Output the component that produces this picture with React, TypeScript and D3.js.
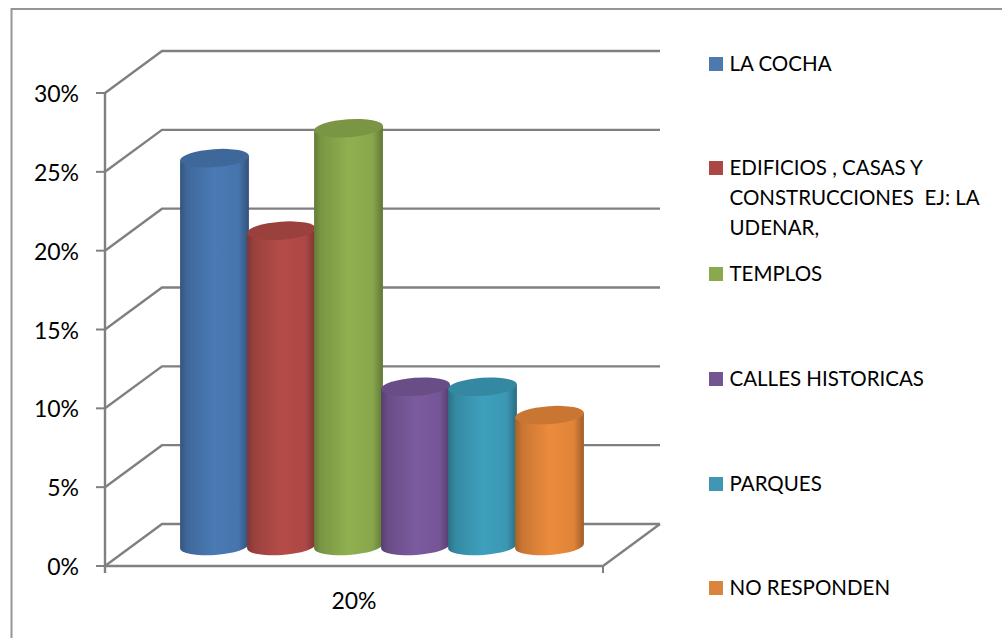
import React from "react";
import * as d3 from "d3";

const categories = ["LA COCHA", "EDIFICIOS , CASAS Y CONSTRUCCIONES EJ: LA UDENAR,", "TEMPLOS", "CALLES HISTORICAS", "PARQUES", "NO RESPONDEN"];
const values = [24.6, 20, 26.5, 10.1, 10.1, 8.3];
const colors = ["#4a7ab5", "#b54c49", "#8fb050", "#7b5a9e", "#3ea0bd", "#ec8b3c"];
const legendColors = ["#4a7ab0", "#ab4846", "#8aa84d", "#735592", "#4097b3", "#db843d"];
const tickValues = [0, 5, 10, 15, 20, 25, 30];
const legendLines = [["LA COCHA"], ["EDIFICIOS , CASAS Y", "CONSTRUCCIONES  EJ: LA", "UDENAR,"], ["TEMPLOS"], ["CALLES HISTORICAS"], ["PARQUES"], ["NO RESPONDEN"]];
const legendY = [64, 168, 274, 379, 484, 588];
const groupLabel = "20%";

const FONT = "Lato, Carlito, sans-serif";
const GRID = "#808080";

const x0 = 105, x1 = 603, dx = 57, dy = -42;
const y = d3.scaleLinear().domain([0, 30]).range([566, 93]);
const band = d3.scaleBand<number>().domain(d3.range(values.length)).range([181, 583]).paddingInner(0).paddingOuter(0);
const barBase = 546;
const h = (v: number) => y(0) - y(v);

export default function App() {
  const rx = band.bandwidth() / 2 + 1;
  const ry = 9;
  const tilt = -4;
  return (
    <svg width={1002} height={638} style={{ position: "absolute", left: 0, top: 0, background: "#fff" }}>
      <defs>
        {colors.map((c, i) => {
          const col = d3.color(c)!;
          return (
            <linearGradient key={i} id={`body${i}`} x1="0" x2="1" y1="0" y2="0">
              <stop offset="0" stopColor={col.darker(1).formatHex()} />
              <stop offset="0.1" stopColor={col.darker(0.45).formatHex()} />
              <stop offset="0.5" stopColor={c} />
              <stop offset="0.85" stopColor={col.darker(0.15).formatHex()} />
              <stop offset="1" stopColor={col.darker(1.1).formatHex()} />
            </linearGradient>
          );
        })}
      </defs>
      <path d="M11.5 638V9H1002" fill="none" stroke="#969696" strokeWidth={2} />
      {tickValues.map((t) => (
        <g key={t}>
          <path d={`M${x0} ${y(t)}L${x0 + dx} ${y(t) + dy}H${x1 + dx}`} fill="none" stroke={GRID} strokeWidth={2.4} />
          <line x1={x0 - 9} x2={x0} y1={y(t)} y2={y(t)} stroke={GRID} strokeWidth={2} />
          <text x={79} y={y(t) + 9} textAnchor="end" fontFamily={FONT} fontSize={23} fill="#000">{t}%</text>
        </g>
      ))}
      <line x1={x0} x2={x0} y1={y(30)} y2={y(0) + 7} stroke={GRID} strokeWidth={2.4} />
      <path d={`M${x0} ${y(0)}H${x1}L${x1 + dx} ${y(0) + dy}`} fill="none" stroke={GRID} strokeWidth={2.4} />
      <line x1={x1} x2={x1} y1={y(0)} y2={y(0) + 7} stroke={GRID} strokeWidth={2} />
      {values.map((v, i) => {
        const cx = band(i)! + band.bandwidth() / 2;
        const top = barBase - h(v);
        const col = d3.color(colors[i])!;
        const a = (tilt * Math.PI) / 180;
        const ox = rx * Math.cos(a), oy = rx * Math.sin(a);
        const body = `M${cx - ox} ${top - oy}L${cx - ox} ${barBase - oy}A${rx} ${ry} ${tilt} 0 0 ${cx + ox} ${barBase + oy}L${cx + ox} ${top + oy}Z`;
        return (
          <g key={i}>
            <path d={body} fill={`url(#body${i})`} />
            <ellipse cx={cx} cy={top} rx={rx} ry={ry} transform={`rotate(${tilt} ${cx} ${top})`} fill={col.darker(0.45).formatHex()} />
          </g>
        );
      })}
      <text x={354} y={609} textAnchor="middle" fontFamily={FONT} fontSize={23} fill="#000">{groupLabel}</text>
      {categories.map((c, i) => (
        <g key={c}>
          <rect x={709} y={legendY[i] - 7} width={14} height={14} fill={legendColors[i]} />
          {legendLines[i].map((l, j) => (
            <text key={j} x={729.5} y={legendY[i] + 7 + j * 30} fontFamily={FONT} fontSize={20.5} fill="#000" style={{ whiteSpace: "pre" }}>{l}</text>
          ))}
        </g>
      ))}
    </svg>
  );
}
